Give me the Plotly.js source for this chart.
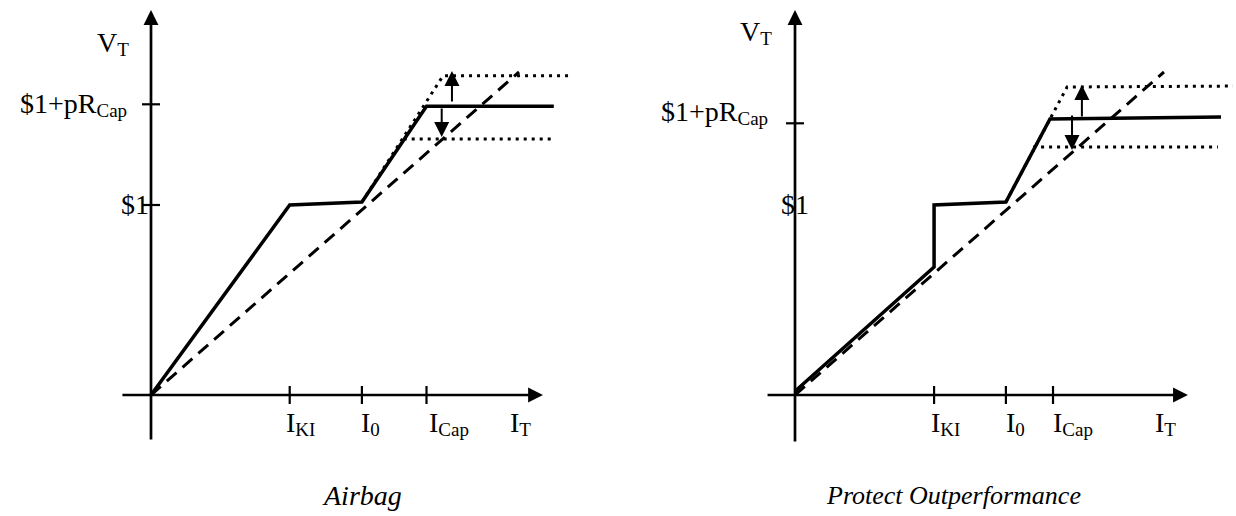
<!DOCTYPE html>
<html><head><meta charset="utf-8">
<script src="https://cdn.plot.ly/plotly-3.0.1.min.js"></script>
<style>html,body{margin:0;padding:0;background:#fff}#chart{width:1236px;height:516px}</style>
</head><body><div id="chart"></div>
<script>
// ---------- shared text ----------
const SUB = s => '<span style="font-size:19px;baseline-shift:-4px">' + s + '</span>';
const xTickLabels = ['I' + SUB('KI'), 'I' + SUB('0'), 'I' + SUB('Cap')];
const xAxisLabel = 'I' + SUB('T');
const yAxisLabel = 'V' + SUB('T');
const yTickLabels = ['$1', '$1+pR' + SUB('Cap')];
const panelTitles = ['Airbag', 'Protect Outperformance'];

// ---------- Airbag panel (index level $1 = 1) ----------
const airbagXTicks = [0.73, 1.11, 1.45];
const airbagITPos = 1.90;
const airbagYTicks = [1.0, 1.53];
const airbagSolidX = [0, 0.73, 1.11, 1.45, 2.12];
const airbagSolidY = [0, 1.0, 1.016, 1.52, 1.52];
const airbagDashX = [0, 1.937];
const airbagDashY = [0, 1.70];
const airbagUpX = [1.11, 1.537, 2.195];
const airbagUpY = [1.016, 1.68, 1.68];
const airbagLowX = [1.33, 2.11];
const airbagLowY = [1.347, 1.347];
const airbagArrowX = [1.584, 1.53];
const airbagArrowFrom = [1.542, 1.51];
const airbagArrowTo = [1.705, 1.358];
const airbagAxisX = [-0.153, 2.063];
const airbagAxisY = [-0.237, 2.026];

// ---------- Protect Outperformance panel ----------
const protXTicks = [0.732, 1.11, 1.358];
const protITPos = 1.905;
const protYTicks = [1.0, 1.43];
const protSolidX = [0, 0.732, 0.732, 1.11, 1.342, 2.242];
const protSolidY = [0.02, 0.674, 1.0, 1.016, 1.453, 1.463];
const protDashX = [0, 1.942];
const protDashY = [0, 1.70];
const protUpX = [1.11, 1.432, 2.305];
const protUpY = [1.016, 1.621, 1.626];
const protLowX = [1.253, 2.226];
const protLowY = [1.305, 1.305];
const protArrowX = [1.51, 1.458];
const protArrowFrom = [1.463, 1.474];
const protArrowTo = [1.632, 1.29];
const protAxisX = [-0.147, 2.068];
const protAxisY = [-0.247, 2.026];

// ---------- styling / label placement (pixels) ----------
const PX = 190; // pixels per data unit
const FONT = 'Liberation Serif, Times New Roman, serif';
const panels = [
  {xa:'x', ya:'y', xTicks:airbagXTicks, iT:airbagITPos, yTicks:airbagYTicks, yTickMarks:[true,true],
   solidX:airbagSolidX, solidY:airbagSolidY, dashX:airbagDashX, dashY:airbagDashY,
   upX:airbagUpX, upY:airbagUpY, lowX:airbagLowX, lowY:airbagLowY,
   arX:airbagArrowX, arFrom:airbagArrowFrom, arTo:airbagArrowTo, axX:airbagAxisX, axY:airbagAxisY,
   title:panelTitles[0], titleX:1.11, titleSize:28,
   vt:{xshift:-20, y:1.85}, yLab:[{xanchor:'right', xshift:0, yshift:1},{xanchor:'right', xshift:-22, yshift:0}],
   xLabShift:[-6,-3,0], iTShift:-4},
  {xa:'x2', ya:'y2', xTicks:protXTicks, iT:protITPos, yTicks:protYTicks, yTickMarks:[false,true],
   solidX:protSolidX, solidY:protSolidY, dashX:protDashX, dashY:protDashY,
   upX:protUpX, upY:protUpY, lowX:protLowX, lowY:protLowY,
   arX:protArrowX, arFrom:protArrowFrom, arTo:protArrowTo, axX:protAxisX, axY:protAxisY,
   title:panelTitles[1], titleX:0.832, titleSize:26,
   vt:{xshift:-21, y:1.91}, yLab:[{xanchor:'center', xshift:0, yshift:1},{xanchor:'right', xshift:-25, yshift:11}],
   xLabShift:[-5,-2,-2], iTShift:-4}
];

const traces = [];
const annotations = [];
const K = '#000';
panels.forEach(p => {
  const base = {xaxis:p.xa, yaxis:p.ya, mode:'lines', hoverinfo:'skip', showlegend:false};
  traces.push(Object.assign({}, base, {x:p.upX, y:p.upY, line:{color:K, width:3, dash:'3px,5px'}}));
  traces.push(Object.assign({}, base, {x:p.lowX, y:p.lowY, line:{color:K, width:3, dash:'3px,5px'}}));
  traces.push(Object.assign({}, base, {x:p.dashX, y:p.dashY, line:{color:K, width:3, dash:'13px,8px'}}));
  traces.push(Object.assign({}, base, {x:p.solidX, y:p.solidY, line:{color:K, width:3.5}}));
  // tick marks
  const h = 9 / PX, tx = [], ty = [];
  p.xTicks.forEach(t => { tx.push(t, t, null); ty.push(-h, h, null); });
  p.yTicks.forEach((t, i) => { if (p.yTickMarks[i]) { tx.push(-h, h, null); ty.push(t, t, null); } });
  traces.push(Object.assign({}, base, {x:tx, y:ty, line:{color:K, width:2.2}}));

  const ref = {xref:p.xa, yref:p.ya};
  // axes and change arrows drawn as annotation arrows (data-referenced tail and tip)
  const arrow = (x, y, ax, ay, w, s) => Object.assign({}, ref, {
    axref:p.xa, ayref:p.ya, x:x, y:y, ax:ax, ay:ay, text:'', showarrow:true,
    arrowhead:2, arrowsize:s, arrowwidth:w, arrowcolor:K, standoff:0, startstandoff:0,
    borderpad:0, font:{size:1}});
  annotations.push(arrow(0, p.axY[1], 0, p.axY[0], 2.7, 1.1));
  annotations.push(arrow(p.axX[1], 0, p.axX[0], 0, 2.7, 1.1));
  p.arX.forEach((x, i) => annotations.push(arrow(x, p.arTo[i], x, p.arFrom[i], 2, 1.5)));

  const lab = (o) => Object.assign({}, ref, {showarrow:false, font:{family:FONT, size:28, color:K}}, o);
  annotations.push(lab({x:0, y:p.vt.y, text:yAxisLabel, xanchor:'right', yanchor:'middle', xshift:p.vt.xshift}));
  p.yTicks.forEach((t, i) => annotations.push(lab({x:0, y:t, text:yTickLabels[i], xanchor:p.yLab[i].xanchor,
    yanchor:'middle', xshift:p.yLab[i].xshift, yshift:p.yLab[i].yshift})));
  p.xTicks.forEach((t, i) => annotations.push(lab({x:t, y:0, text:xTickLabels[i], xanchor:'left',
    yanchor:'middle', xshift:p.xLabShift[i], yshift:-28})));
  annotations.push(lab({x:p.iT, y:0, text:xAxisLabel, xanchor:'left', yanchor:'middle', xshift:p.iTShift, yshift:-28}));
  annotations.push(lab({x:p.titleX, y:0, text:'<i>' + p.title + '</i>', xanchor:'center', yanchor:'middle',
    yshift:-100, font:{family:FONT, size:p.titleSize, color:K}}));
});

const axisOff = {visible:false, showgrid:false, zeroline:false, fixedrange:true};
const layout = {
  width:1236, height:516, margin:{l:0, r:0, t:0, b:0},
  paper_bgcolor:'#fff', plot_bgcolor:'#fff', showlegend:false,
  xaxis:Object.assign({}, axisOff, {domain:[0, 0.5], range:[-151/PX, 467/PX], anchor:'y'}),
  yaxis:Object.assign({}, axisOff, {domain:[0, 1], range:[-121/PX, 395/PX], anchor:'x'}),
  xaxis2:Object.assign({}, axisOff, {domain:[0.5, 1], range:[-177/PX, 441/PX], anchor:'y2'}),
  yaxis2:Object.assign({}, axisOff, {domain:[0, 1], range:[-121/PX, 395/PX], anchor:'x2'}),
  annotations:annotations
};
Plotly.newPlot('chart', traces, layout, {staticPlot:true, displayModeBar:false});
</script></body></html>
